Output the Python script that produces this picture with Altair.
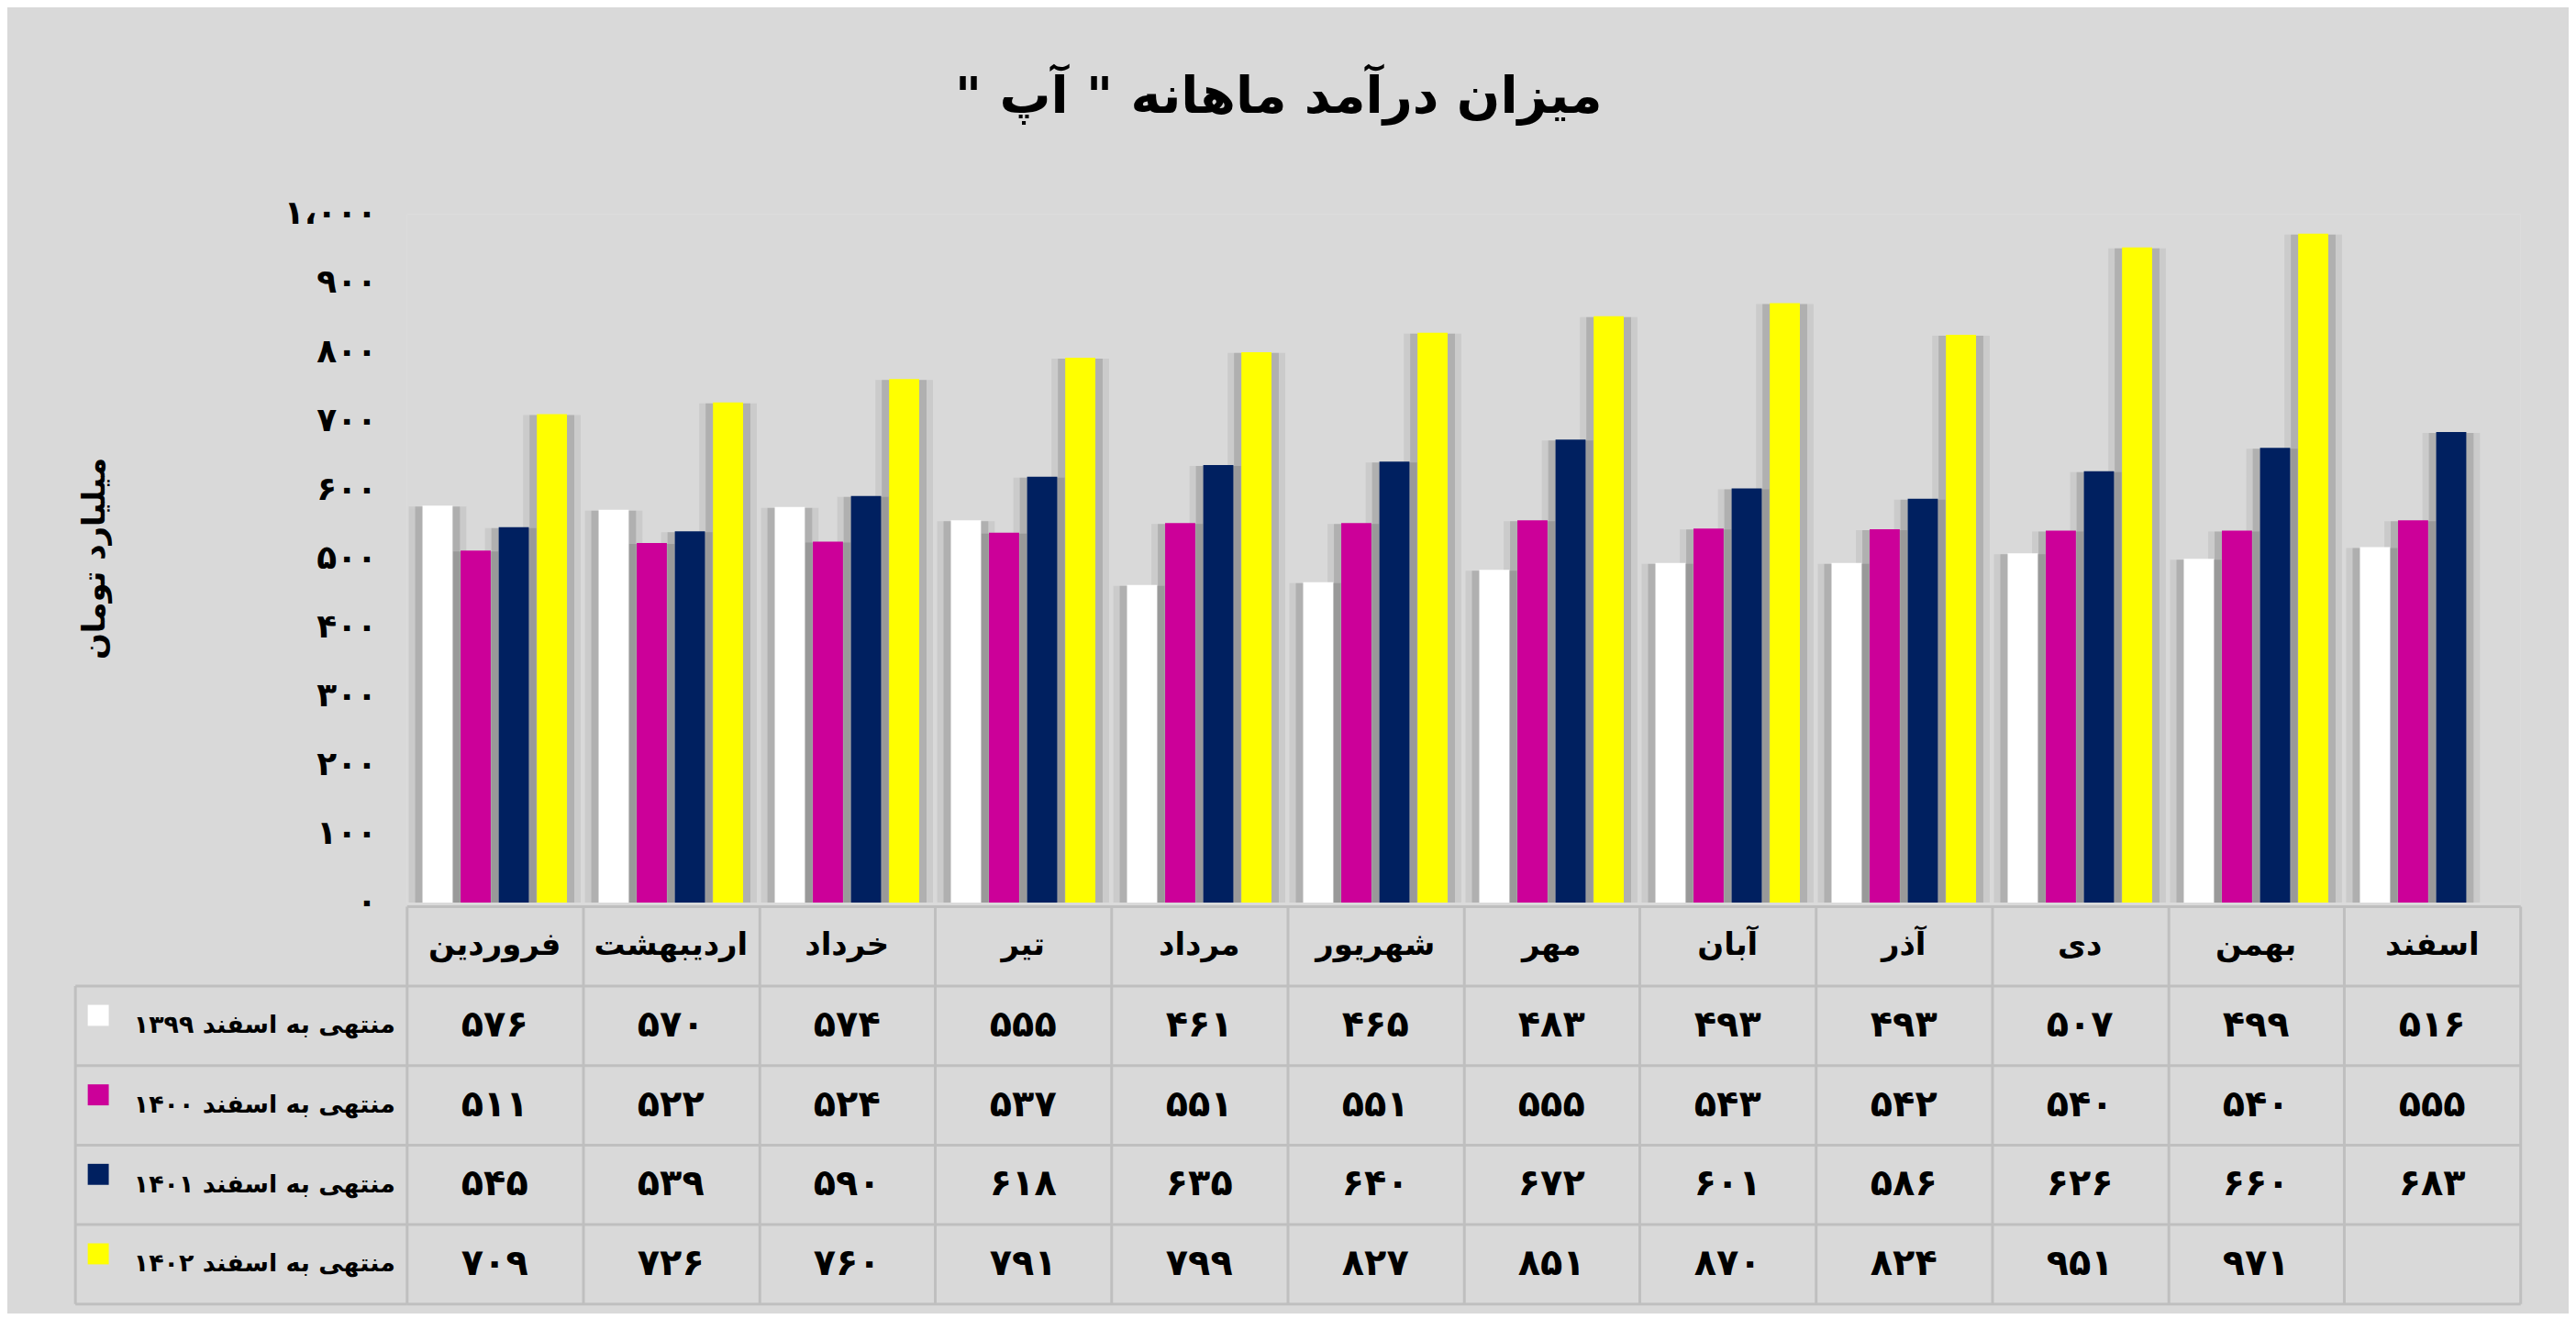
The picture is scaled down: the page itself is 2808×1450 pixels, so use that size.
import altair as alt
import pandas as pd

# ---------------- data ----------------
months = ["فروردین", "اردیبهشت", "خرداد", "تیر", "مرداد", "شهریور",
          "مهر", "آبان", "آذر", "دی", "بهمن", "اسفند"]
series = ["منتهی به اسفند ۱۳۹۹", "منتهی به اسفند ۱۴۰۰",
          "منتهی به اسفند ۱۴۰۱", "منتهی به اسفند ۱۴۰۲"]
colors = ["#FFFFFF", "#CC0099", "#002060", "#FFFF00"]

v1399 = [576, 570, 574, 555, 461, 465, 483, 493, 493, 507, 499, 516]
v1400 = [511, 522, 524, 537, 551, 551, 555, 543, 542, 540, 540, 555]
v1401 = [545, 539, 590, 618, 635, 640, 672, 601, 586, 626, 660, 683]
v1402 = [709, 726, 760, 791, 799, 827, 851, 870, 824, 951, 971, None]

y_ticks = [0, 100, 200, 300, 400, 500, 600, 700, 800, 900, 1000]
y_tick_labels = ["۰", "۱۰۰", "۲۰۰", "۳۰۰", "۴۰۰", "۵۰۰",
                 "۶۰۰", "۷۰۰", "۸۰۰", "۹۰۰", "۱،۰۰۰"]

title_text = "میزان درآمد ماهانه \" آپ \"\u200f"
y_title = "میلیارد تومان"
header_key = "h"

# ---------------- tables ----------------
fa = str.maketrans("0123456789", "۰۱۲۳۴۵۶۷۸۹")
all_vals = [v1399, v1400, v1401, v1402]

bar_rows = []
cell_rows = []
for s, vals in zip(series, all_vals):
    for m, v in zip(months, vals):
        if v is None:
            continue
        bar_rows.append({"series": s, "month": m, "value": v})
        cell_rows.append({"row": s, "month": m, "txt": str(v).translate(fa)})
bars_df = pd.DataFrame(bar_rows)
cells_df = pd.DataFrame(cell_rows)
header_df = pd.DataFrame({"row": [header_key] * len(months), "month": months, "txt": months})
border_df = pd.DataFrame({"row": series})

GRID = "#BFBFBF"
FONT = "DejaVu Sans"
W = 2313
H_TOP = 754
ROW_H = 87
H_TAB = ROW_H * 5
LABEL_COL = 363

# ---------------- top: bars ----------------
label_expr = "[" + ",".join('"%s"' % t for t in y_tick_labels) + "][round(datum.value/100)]"

x_enc = alt.X("month:N", sort=months,
              scale=alt.Scale(paddingInner=0, paddingOuter=0), axis=None)
xo_enc = alt.XOffset("series:N", sort=series,
                     scale=alt.Scale(paddingInner=0.21, paddingOuter=0.415))
y_enc = alt.Y("value:Q", scale=alt.Scale(domain=[0, 1000], nice=False),
              axis=alt.Axis(values=y_ticks, labelExpr=label_expr, title=y_title,
                            grid=False, ticks=False, domain=False,
                            labelFontSize=36, labelFontWeight="bold", labelColor="black",
                            labelPadding=33, titleFontSize=34, titleFontWeight="bold",
                            titleColor="black", titlePadding=190, labelFont=FONT,
                            titleFont=FONT))

base = alt.Chart(bars_df)
shadow_wide = base.mark_bar(color="#7f7f7f", stroke="#7f7f7f", strokeWidth=30,
                            opacity=0.15, yOffset=16, clip=True).encode(
    x=x_enc, xOffset=xo_enc, y=y_enc)
shadow_near = base.mark_bar(color="#7f7f7f", stroke="#7f7f7f", strokeWidth=16,
                            opacity=0.35, yOffset=9, clip=True).encode(
    x=x_enc, xOffset=xo_enc, y=y_enc)
bars = base.mark_bar().encode(
    x=x_enc, xOffset=xo_enc, y=y_enc,
    color=alt.Color("series:N", sort=series,
                    scale=alt.Scale(domain=series, range=colors),
                    legend=alt.Legend(orient="none", legendX=-349, legendY=866,
                                      direction="vertical", title=None,
                                      symbolType="square", symbolSize=529,
                                      symbolStrokeWidth=0, symbolOpacity=1,
                                      labelExpr="''", labelFontSize=1,
                                      rowPadding=ROW_H - 23, padding=0)))
top = alt.layer(shadow_wide, shadow_near, bars).properties(width=W, height=H_TOP)

# ---------------- bottom: data table ----------------
rows = [header_key] + series
x_tab = alt.X("month:N", sort=months, scale=alt.Scale(paddingInner=0, paddingOuter=0),
              axis=alt.Axis(title=None, labels=False, ticks=False, domain=False,
                            grid=True, tickBand="extent", gridColor=GRID, gridWidth=3))
y_tab = alt.Y("row:N", sort=rows, scale=alt.Scale(domain=rows, paddingInner=0, paddingOuter=0),
              axis=alt.Axis(title=None,
                            labelExpr="datum.value == 'h' ? '' : datum.value",
                            labelFontSize=27, labelFontWeight="bold", labelColor="black",
                            labelFont=FONT, labelLimit=0, labelPadding=-(LABEL_COL - 13),
                            tickBand="extent", tickSize=LABEL_COL, tickWidth=3,
                            tickColor={"condition": {"test": "datum.extra",
                                                     "value": "transparent"},
                                       "value": GRID},
                            grid=True, gridColor=GRID, gridWidth=3, domain=False))

header_text = alt.Chart(header_df).mark_text(fontSize=34, fontWeight="bold",
                                             color="black", font=FONT).encode(
    x=x_tab, y=y_tab, text="txt:N")
cell_text = alt.Chart(cells_df).mark_text(fontSize=40, fontWeight="bold",
                                          color="black", font=FONT).encode(
    x=x_tab, y=y_tab, text="txt:N")
left_border = alt.Chart(border_df).mark_text(opacity=0, text="").encode(
    y=alt.Y("row:N", sort=series,
            scale=alt.Scale(domain=series, range=[ROW_H, H_TAB], paddingInner=0, paddingOuter=0),
            axis=alt.Axis(orient="left", offset=LABEL_COL, domain=True, domainColor=GRID,
                          domainWidth=3, labels=False, ticks=False, grid=False, title=None)))

table = alt.layer(alt.layer(header_text, cell_text), left_border).resolve_scale(
    y="independent").resolve_axis(y="independent").properties(width=W, height=H_TAB)

chart = alt.vconcat(top, table, spacing=4, bounds="flush").properties(
    title=alt.TitleParams(text=title_text, fontSize=56, fontWeight="bold", font=FONT,
                          anchor="middle", color="black", offset=80, dx=-20),
    padding={"left": 72, "right": 52, "top": 67, "bottom": 6},
    background="#D9D9D9",
).configure_view(stroke=GRID, strokeWidth=3).configure(font=FONT)

chart.save("out.html", embed_options={"renderer": "svg", "actions": False})
